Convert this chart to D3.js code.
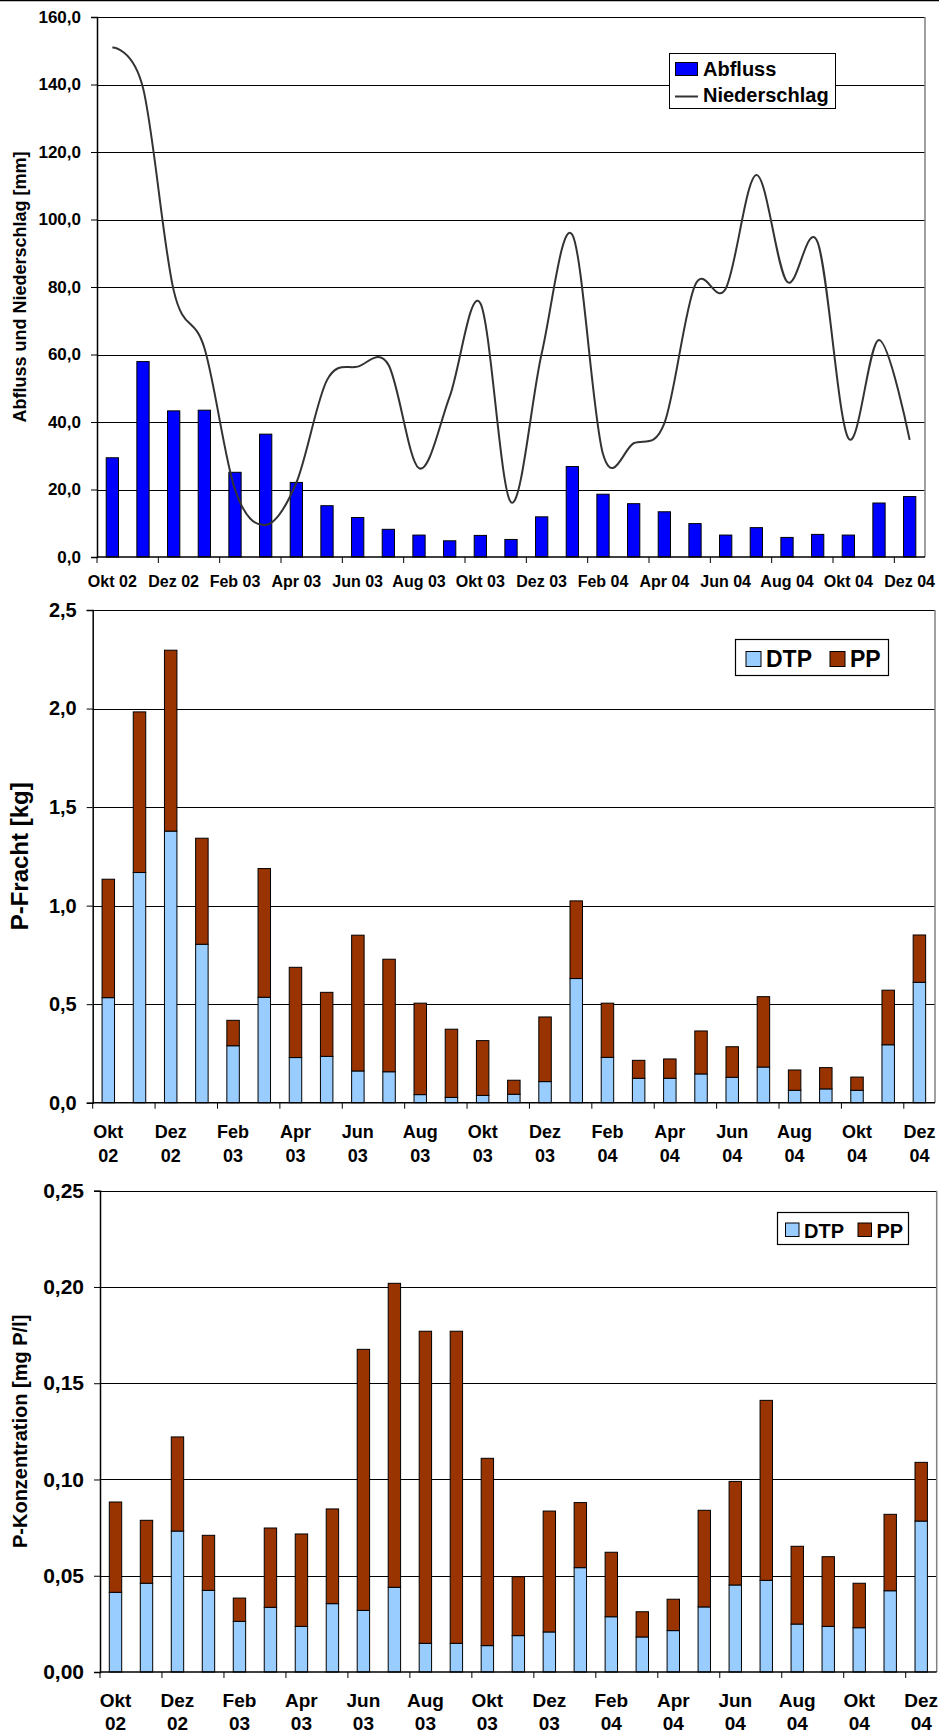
<!DOCTYPE html>
<html>
<head>
<meta charset="utf-8">
<script src="https://cdn.jsdelivr.net/npm/d3@7"></script>
<style>
  html, body { margin: 0; padding: 0; background: #fff; }
  svg { display: block; font-family: "Liberation Sans", Arial, sans-serif; font-weight: bold; }
</style>
</head>
<body>
<svg id="chart" width="939" height="1735"></svg>
<script>
// ---------- DATA ----------
const months = ["Okt 02","Nov 02","Dez 02","Jan 03","Feb 03","Mrz 03","Apr 03","Mai 03","Jun 03","Jul 03","Aug 03","Sep 03",
  "Okt 03","Nov 03","Dez 03","Jan 04","Feb 04","Mrz 04","Apr 04","Mai 04","Jun 04","Jul 04","Aug 04","Sep 04","Okt 04","Nov 04","Dez 04"];

const abfluss = [29.4,57.9,43.3,43.5,25.1,36.4,22.1,15.2,11.7,8.2,6.5,4.8,6.4,5.2,11.9,26.8,18.6,15.8,13.4,9.9,6.5,8.7,5.8,6.7,6.5,16.0,17.9];
const niederschlag = [151,139,79,62,20,9.5,22,52.4,56.4,57,26.3,47.5,75.2,16.2,60.3,95.5,30.5,33.7,39.6,80.5,79.5,113.2,81.6,93.2,35.2,64.3,34.7];

const frachtDTP = [0.533,1.168,1.378,0.804,0.289,0.535,0.229,0.235,0.161,0.157,0.041,0.027,0.037,0.043,0.107,0.630,0.230,0.124,0.124,0.146,0.129,0.181,0.063,0.070,0.063,0.294,0.611];
const frachtPP  = [0.601,0.815,0.918,0.538,0.129,0.653,0.458,0.325,0.689,0.571,0.464,0.346,0.278,0.071,0.328,0.394,0.275,0.091,0.098,0.218,0.155,0.357,0.103,0.108,0.067,0.277,0.240];

const konzDTP = [0.0414,0.0461,0.0732,0.0424,0.0263,0.0336,0.0237,0.0355,0.0320,0.0440,0.0149,0.0149,0.0137,0.0189,0.0208,0.0542,0.0287,0.0182,0.0215,0.0338,0.0452,0.0476,0.0249,0.0237,0.0230,0.0422,0.0784];
const konzPP  = [0.0469,0.0327,0.0489,0.0286,0.0121,0.0412,0.0480,0.0492,0.1356,0.1579,0.1621,0.1621,0.0973,0.0306,0.0628,0.0338,0.0335,0.0131,0.0163,0.0502,0.0538,0.0935,0.0404,0.0362,0.0231,0.0397,0.0305];

const ticks1 = [0,20,40,60,80,100,120,140,160];
const tickLabels1 = ["0,0","20,0","40,0","60,0","80,0","100,0","120,0","140,0","160,0"];
const ticks2 = [0,0.5,1.0,1.5,2.0,2.5];
const tickLabels2 = ["0,0","0,5","1,0","1,5","2,0","2,5"];
const ticks3 = [0,0.05,0.10,0.15,0.20,0.25];
const tickLabels3 = ["0,00","0,05","0,10","0,15","0,20","0,25"];

const seriesNames1 = ["Abfluss","Niederschlag"];
const seriesNames2 = ["DTP","PP"];
const yTitles = ["Abfluss und Niederschlag [mm]","P-Fracht [kg]","P-Konzentration [mg P/l]"];

// ---------- STYLE ----------
const C_BLUE = "#0000FF", C_DTP = "#99CCFF", C_PP = "#993300";
const svg = d3.select("#chart");

// top border line of figure
svg.append("line").attr("x1",0).attr("x2",939).attr("y1",0.5).attr("y2",0.5).attr("stroke","#000").attr("stroke-width",1.5);

function frame(cfg) {
  const g = svg.append("g");
  const x = d3.scaleBand().domain(months).range([cfg.left, cfg.right]).paddingInner(0.6).paddingOuter(0.3);
  const y = d3.scaleLinear().domain([0, cfg.ymax]).range([cfg.bottom, cfg.top]);
  g.selectAll(".grid").data(cfg.ticks.slice(1)).join("line")
    .attr("x1", cfg.left).attr("x2", cfg.right)
    .attr("y1", d => Math.round(y(d)) + 0.5).attr("y2", d => Math.round(y(d)) + 0.5)
    .attr("stroke", "#000").attr("stroke-width", 1);
  g.append("line").attr("x1", cfg.right).attr("x2", cfg.right).attr("y1", cfg.top).attr("y2", cfg.bottom)
    .attr("stroke", "#808080").attr("stroke-width", 1.5);
  return {g, x, y};
}

function axes(cfg, g, x, y) {
  const yAxis = d3.axisLeft(y).tickValues(cfg.ticks).tickFormat((d, i) => cfg.tickLabels[i]).tickSize(6).tickPadding(cfg.yPad);
  const ya = g.append("g").attr("transform", `translate(${cfg.left},0)`).call(yAxis);
  ya.select(".domain").attr("stroke", "#000").attr("stroke-width", 1.5);
  ya.selectAll(".tick line").attr("stroke", "#000");
  ya.selectAll(".tick text").attr("font-size", cfg.yFont).attr("font-weight", "bold").attr("fill", "#000")
    .attr("font-family", "Liberation Sans, Arial, sans-serif");
  g.append("line").attr("x1", cfg.left).attr("x2", cfg.right).attr("y1", cfg.bottom).attr("y2", cfg.bottom)
    .attr("stroke", "#000").attr("stroke-width", 1.5);
  const step = x.step();
  const bounds = d3.range(0, months.length + 1, 2).map(i => x(months[0]) - x.paddingOuter() * step + i * step);
  g.selectAll(".xt").data(bounds).join("line")
    .attr("x1", d => d).attr("x2", d => d).attr("y1", cfg.bottom).attr("y2", cfg.bottom + 6)
    .attr("stroke", "#000").attr("stroke-width", 1);
  const labelled = months.filter((m, i) => i % 2 === 0);
  labelled.forEach(m => {
    const cx = x(m) + x.bandwidth() / 2;
    const parts = m.split(" ");
    if (cfg.twoLine) {
      const t = g.append("text").attr("x", cx).attr("y", cfg.xLabelY).attr("text-anchor", "middle")
        .attr("font-size", cfg.xFont).attr("fill", "#000");
      t.append("tspan").attr("x", cx).text(parts[0]);
      t.append("tspan").attr("x", cx).attr("dy", cfg.xLineGap).text(parts[1]);
    } else {
      g.append("text").attr("x", cx).attr("y", cfg.xLabelY).attr("text-anchor", "middle")
        .attr("font-size", cfg.xFont).attr("fill", "#000").text(m);
    }
  });
  g.append("text").attr("transform", `translate(${cfg.titleX},${(cfg.top + cfg.bottom) / 2}) rotate(-90)`)
    .attr("text-anchor", "middle").attr("font-size", cfg.titleFont).attr("fill", "#000").text(cfg.title);
}

// ---------- CHART 1 ----------
(function () {
  const cfg = {left: 97, right: 925, top: 17, bottom: 557, ymax: 160, ticks: ticks1, tickLabels: tickLabels1,
    yFont: 17, yPad: 10, xFont: 16, xLabelY: 587, twoLine: false, titleX: 26, titleFont: 18, title: yTitles[0]};
  const {g, x, y} = frame(cfg);
  g.selectAll(".bar").data(abfluss).join("rect")
    .attr("x", (d, i) => x(months[i])).attr("width", x.bandwidth())
    .attr("y", d => y(d)).attr("height", d => y(0) - y(d))
    .attr("fill", C_BLUE).attr("stroke", "#000").attr("stroke-width", 1);
  const line = d3.line().x((d, i) => x(months[i]) + x.bandwidth() / 2).y(d => y(d)).curve(d3.curveCatmullRom.alpha(0));
  g.append("path").attr("d", line(niederschlag)).attr("fill", "none").attr("stroke", "#333").attr("stroke-width", 2);
  axes(cfg, g, x, y);
  const lg = g.append("g");
  lg.append("rect").attr("x", 669.5).attr("y", 53.5).attr("width", 166).attr("height", 55).attr("fill", "#fff").attr("stroke", "#000").attr("stroke-width", 1);
  lg.append("rect").attr("x", 675.5).attr("y", 62.5).attr("width", 22).attr("height", 13).attr("fill", C_BLUE).attr("stroke", "#000");
  lg.append("text").attr("x", 703).attr("y", 76).attr("font-size", 20).attr("fill", "#000").text(seriesNames1[0]);
  lg.append("line").attr("x1", 675).attr("x2", 698).attr("y1", 96.5).attr("y2", 96.5).attr("stroke", "#333").attr("stroke-width", 2);
  lg.append("text").attr("x", 703).attr("y", 102).attr("font-size", 20).attr("fill", "#000").text(seriesNames1[1]);
})();

// ---------- stacked chart helper ----------
function stacked(cfg, dtp, pp) {
  const {g, x, y} = frame(cfg);
  const bars = g.append("g");
  dtp.forEach((d, i) => {
    bars.append("rect").attr("x", x(months[i])).attr("width", x.bandwidth())
      .attr("y", y(d)).attr("height", y(0) - y(d))
      .attr("fill", C_DTP).attr("stroke", "#000").attr("stroke-width", 1);
    bars.append("rect").attr("x", x(months[i])).attr("width", x.bandwidth())
      .attr("y", y(d + pp[i])).attr("height", y(d) - y(d + pp[i]))
      .attr("fill", C_PP).attr("stroke", "#000").attr("stroke-width", 1);
  });
  axes(cfg, g, x, y);
  const L = cfg.legend;
  const lg = g.append("g");
  lg.append("rect").attr("x", L.x).attr("y", L.y).attr("width", L.w).attr("height", L.h).attr("fill", "#fff").attr("stroke", "#000").attr("stroke-width", 1.2);
  lg.append("rect").attr("x", L.s1).attr("y", L.sy).attr("width", L.ss).attr("height", L.ss).attr("fill", C_DTP).attr("stroke", "#000");
  lg.append("text").attr("x", L.t1).attr("y", L.ty).attr("font-size", L.font).attr("fill", "#000").text(seriesNames2[0]);
  lg.append("rect").attr("x", L.s2).attr("y", L.sy).attr("width", L.ss).attr("height", L.ss).attr("fill", C_PP).attr("stroke", "#000");
  lg.append("text").attr("x", L.t2).attr("y", L.ty).attr("font-size", L.font).attr("fill", "#000").text(seriesNames2[1]);
}

// ---------- CHART 2 ----------
stacked({left: 92.7, right: 935, top: 610, bottom: 1102.7, ymax: 2.5, ticks: ticks2, tickLabels: tickLabels2,
  yFont: 20, yPad: 10, xFont: 18, xLabelY: 1138, xLineGap: 24, twoLine: true, titleX: 28, titleFont: 24, title: yTitles[1],
  legend: {x: 735.5, y: 639.5, w: 153, h: 36, s1: 746, s2: 830, sy: 651.5, ss: 15, t1: 766, t2: 850, ty: 667, font: 23}},
  frachtDTP, frachtPP);

// ---------- CHART 3 ----------
stacked({left: 100, right: 936.7, top: 1190.7, bottom: 1672, ymax: 0.25, ticks: ticks3, tickLabels: tickLabels3,
  yFont: 21, yPad: 10, xFont: 19, xLabelY: 1707, xLineGap: 23, twoLine: true, titleX: 27, titleFont: 20, title: yTitles[2],
  legend: {x: 777.5, y: 1212.5, w: 131, h: 32, s1: 785.5, s2: 858, sy: 1223, ss: 13.5, t1: 804, t2: 876.5, ty: 1237.5, font: 20}},
  konzDTP, konzPP);
</script>
</body>
</html>
